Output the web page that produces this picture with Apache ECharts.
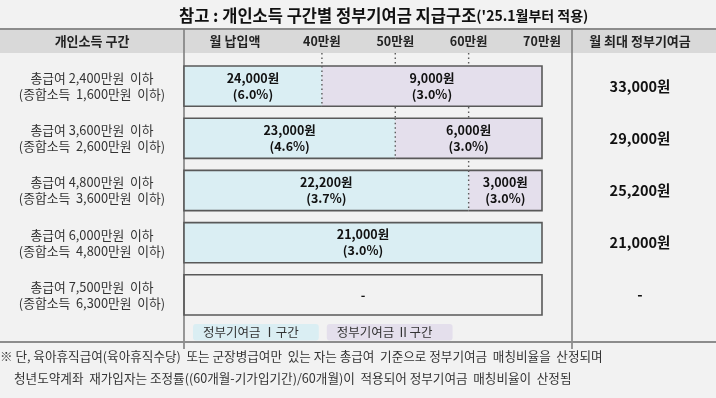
<!DOCTYPE html>
<html>
<head>
<meta charset="utf-8">
<script src="https://cdn.jsdelivr.net/npm/echarts@6.0.0/dist/echarts.min.js"></script>
<style>
  html, body { margin: 0; padding: 0; background: #f2f2f2; }
  #chart { width: 716px; height: 398px; }
</style>
</head>
<body>
<div id="chart"></div>
<script>
// 개인소득 구간 (row labels, two lines each)
const incomeBands = [
  ["총급여 2,400만원  이하", "(종합소득  1,600만원  이하)"],
  ["총급여 3,600만원  이하", "(종합소득  2,600만원  이하)"],
  ["총급여 4,800만원  이하", "(종합소득  3,600만원  이하)"],
  ["총급여 6,000만원  이하", "(종합소득  4,800만원  이하)"],
  ["총급여 7,500만원  이하", "(종합소득  6,300만원  이하)"],
];
// 월 납입액 (만원) - Ⅰ구간 upper limit per row, null = 미지급
const tier1Limit = [40, 50, 60, 70, null];
const tier1Amount = [24000, 23000, 22200, 21000, null];
const tier1Rate = [6.0, 4.6, 3.7, 3.0, null];
// Ⅱ구간: limit ~ 70만원
const tier2Amount = [9000, 6000, 3000, null, null];
const tier2Rate = [3.0, 3.0, 3.0, null, null];
const payTicks = [40, 50, 60, 70];
const PAY_MAX = 70;
// axis is cut on the left so the 0~40 band fits the box
const PAY_MIN = 21.2;

const FONT = '"Noto Sans CJK KR", "Noto Sans", sans-serif';
const BLUE = "#daeef3";
const PURPLE = "#e4dfec";
const EDGE = "#595959";

const fmt = (v) => v.toLocaleString("en-US") + "원";
const totals = tier1Amount.map((a, i) =>
  a == null ? "-" : fmt(a + (tier2Amount[i] || 0))
);

// row geometry helper
function rowBox(params, api, row) {
  const end = api.coord([PAY_MAX, row]);
  const h = api.size([0, 1])[1] * 0.77;
  return { x0: params.coordSys.x, x2: end[0], cy: end[1], y0: end[1] - h / 2, y1: end[1] + h / 2, h };
}

function labelText(x, y, txt) {
  return {
    type: "text",
    z2: 5,
    style: {
      text: txt, x: x, y: y, align: "center", verticalAlign: "middle",
      font: "bold 12.5px " + FONT, lineHeight: 16, fill: "#111",
    },
  };
}

function renderTier1(params, api) {
  const lim = api.value(0);
  const row = api.value(1);
  const b = rowBox(params, api, row);
  const line = { stroke: EDGE, lineWidth: 1.6, fill: null };
  if (isNaN(lim)) {
    return {
      type: "group",
      children: [
        { type: "rect", z2: 3, shape: { x: b.x0, y: b.y0, width: b.x2 - b.x0, height: b.h }, style: line },
        labelText((b.x0 + b.x2) / 2, b.cy, "-"),
      ],
    };
  }
  const x1 = api.coord([lim, row])[0];
  const amt = api.value(2);
  const rate = api.value(3);
  const border = lim >= PAY_MAX
    ? { type: "rect", z2: 3, shape: { x: b.x0, y: b.y0, width: x1 - b.x0, height: b.h }, style: line }
    : { type: "polyline", z2: 3, shape: { points: [[x1, b.y0], [b.x0, b.y0], [b.x0, b.y1], [x1, b.y1]] }, style: line };
  return {
    type: "group",
    children: [
      { type: "rect", z2: 1, shape: { x: b.x0, y: b.y0, width: x1 - b.x0, height: b.h }, style: { fill: BLUE } },
      border,
      labelText((b.x0 + x1) / 2, b.cy, fmt(amt) + "\n(" + rate.toFixed(1) + "%)"),
    ],
  };
}

function renderTier2(params, api) {
  const lim = api.value(0);
  const row = api.value(1);
  const b = rowBox(params, api, row);
  const x1 = api.coord([lim, row])[0];
  const amt = api.value(2);
  const rate = api.value(3);
  const dot = { stroke: EDGE, lineWidth: 1.4, lineDash: [1.5, 3] };
  return {
    type: "group",
    children: [
      // guide from header down to this row
      { type: "line", z2: -5, shape: { x1: x1, y1: params.coordSys.y - 7, x2: x1, y2: b.y0 }, style: dot },
      { type: "rect", z2: 1, shape: { x: x1, y: b.y0, width: b.x2 - x1, height: b.h }, style: { fill: PURPLE } },
      { type: "polyline", z2: 3, shape: { points: [[x1, b.y0], [b.x2, b.y0], [b.x2, b.y1], [x1, b.y1]] },
        style: { stroke: EDGE, lineWidth: 1.6, fill: null } },
      { type: "line", z2: 3, shape: { x1: x1, y1: b.y0, x2: x1, y2: b.y1 }, style: dot },
      labelText((x1 + b.x2) / 2, b.cy, fmt(amt) + "\n(" + rate.toFixed(1) + "%)"),
    ],
  };
}

const tier1Data = incomeBands.map((_, i) => [
  tier1Limit[i] == null ? "-" : tier1Limit[i], i,
  tier1Amount[i] == null ? "-" : tier1Amount[i],
  tier1Rate[i] == null ? "-" : tier1Rate[i],
]);
const tier2Data = [];
incomeBands.forEach((_, i) => {
  if (tier2Amount[i] != null) tier2Data.push([tier1Limit[i], i, tier2Amount[i], tier2Rate[i]]);
});

const gridLine = { stroke: "#7f7f7f", lineWidth: 1.6 };

const chart = echarts.init(document.getElementById("chart"));
chart.setOption({
  backgroundColor: "#f2f2f2",
  animation: false,
  title: {
    text: "참고 : 개인소득 구간별 정부기여금 지급구조{s|('25.1월부터 적용)}",
    left: 174,
    top: 2,
    textStyle: {
      fontFamily: FONT, fontSize: 16.5, fontWeight: "bold", color: "#111",
      rich: { s: { fontFamily: FONT, fontSize: 14, fontWeight: "bold", color: "#111" } },
    },
  },
  legend: {
    left: 183,
    top: 319,
    icon: "none",
    itemWidth: 0,
    itemGap: 3,
    selectedMode: false,
    textStyle: { fontFamily: FONT, fontSize: 12.5, color: "#333" },
    data: [
      { name: "정부기여금 Ⅰ구간", textStyle: { backgroundColor: BLUE, padding: [2, 20, 2, 10], borderRadius: 3 } },
      { name: "정부기여금 Ⅱ구간", textStyle: { backgroundColor: PURPLE, padding: [2, 20, 2, 10], borderRadius: 3 } },
    ],
  },
  grid: { left: 184, right: 174, top: 60, height: 261 },
  xAxis: {
    type: "value",
    position: "top",
    min: PAY_MIN,
    max: PAY_MAX,
    axisLine: { show: false },
    axisTick: { show: false },
    splitLine: { show: false },
    axisLabel: {
      customValues: payTicks,
      formatter: "{value}만원",
      margin: 12,
      fontFamily: FONT, fontSize: 12.5, fontWeight: "bold", color: "#222",
    },
  },
  yAxis: [
    {
      type: "category",
      inverse: true,
      data: incomeBands.map((b, i) => i),
      axisLine: { show: false },
      axisTick: { show: false },
      axisLabel: {
        align: "center",
        margin: 92,
        formatter: (v) => incomeBands[v].join("\n"),
        fontFamily: FONT, fontSize: 12.8, lineHeight: 16, color: "#333",
      },
    },
    {
      type: "category",
      inverse: true,
      position: "right",
      data: incomeBands.map((b, i) => i),
      axisLine: { show: false },
      axisTick: { show: false },
      axisLabel: {
        align: "center",
        margin: 98,
        formatter: (v) => totals[v],
        fontFamily: FONT, fontSize: 14.5, fontWeight: "bold", color: "#111",
      },
    },
  ],
  graphic: [
    { type: "rect", z: -1, shape: { x: 0, y: 29, width: 716, height: 24 }, style: { fill: "#d9d9d9" } },
    { type: "line", shape: { x1: 0, y1: 29, x2: 716, y2: 29 }, style: { stroke: "#8c8c8c", lineWidth: 2 } },
    { type: "line", shape: { x1: 184, y1: 29, x2: 184, y2: 349 }, style: gridLine },
    { type: "line", shape: { x1: 572, y1: 29, x2: 572, y2: 349 }, style: gridLine },
    { type: "line", shape: { x1: 0, y1: 342, x2: 716, y2: 342 }, style: { stroke: "#8c8c8c", lineWidth: 2 } },
    { type: "text", style: { text: "개인소득 구간", x: 92, y: 41, align: "center", verticalAlign: "middle",
        font: "bold 13px " + FONT, fill: "#222" } },
    { type: "text", style: { text: "월 납입액", x: 235, y: 41, align: "center", verticalAlign: "middle",
        font: "bold 13px " + FONT, fill: "#222" } },
    { type: "text", style: { text: "월 최대 정부기여금", x: 640, y: 41, align: "center", verticalAlign: "middle",
        font: "bold 13px " + FONT, fill: "#222" } },
    { type: "text", style: { text: "※ 단, 육아휴직급여(육아휴직수당)  또는 군장병급여만  있는 자는 총급여  기준으로 정부기여금  매칭비율을  산정되며",
        x: 0, y: 356, verticalAlign: "middle", font: "12.6px " + FONT, fill: "#333" } },
    { type: "text", style: { text: "청년도약계좌  재가입자는 조정률((60개월-기가입기간)/60개월)이  적용되어 정부기여금  매칭비율이  산정됨",
        x: 14, y: 378, verticalAlign: "middle", font: "12.6px " + FONT, fill: "#333" } },
  ],
  series: [
    {
      name: "정부기여금 Ⅰ구간",
      type: "custom",
      color: BLUE,
      renderItem: renderTier1,
      encode: { x: 0, y: 1 },
      data: tier1Data,
    },
    {
      name: "정부기여금 Ⅱ구간",
      type: "custom",
      color: PURPLE,
      renderItem: renderTier2,
      encode: { x: 0, y: 1 },
      data: tier2Data,
    },
  ],
});
</script>
</body>
</html>
